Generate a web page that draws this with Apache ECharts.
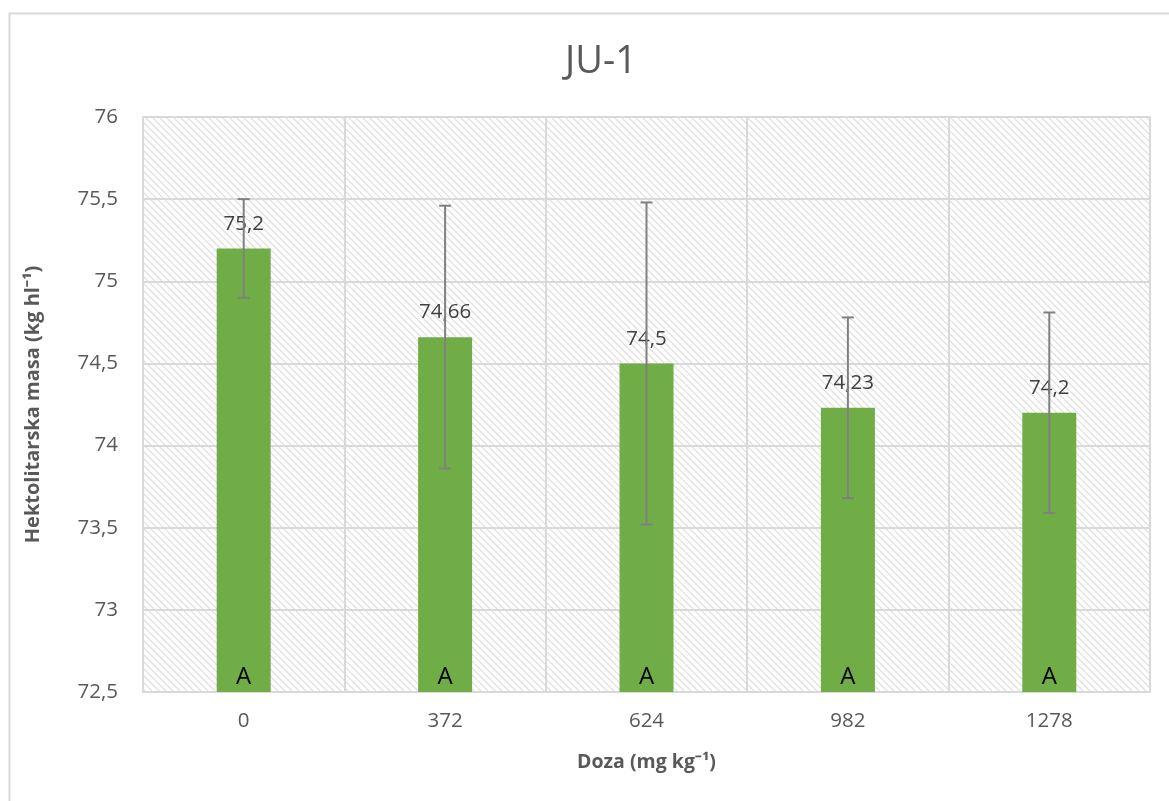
<!DOCTYPE html>
<html>
<head>
<meta charset="utf-8">
<script src="https://cdn.jsdelivr.net/npm/echarts@6/dist/echarts.min.js"></script>
<style>html,body{margin:0;padding:0;background:#fff;}#c{width:1169px;height:801px;}</style>
</head>
<body>
<div id="c"></div>
<script>
const categories = ['0', '372', '624', '982', '1278'];
const values = [75.2, 74.66, 74.5, 74.23, 74.2];
const errors = [0.3, 0.8, 0.98, 0.55, 0.61];
const letters = ['A', 'A', 'A', 'A', 'A'];
const yTicks = { min: 72.5, max: 76, interval: 0.5 };

const fmt = v => String(v).replace('.', ',');

// hatch pattern
const S = 7;
const pc = document.createElement('canvas');
pc.width = S; pc.height = S;
const ctx = pc.getContext('2d');
ctx.fillStyle = '#ffffff';
ctx.fillRect(0, 0, S, S);
ctx.strokeStyle = '#dcdcdc';
ctx.lineWidth = 1.1;
ctx.beginPath();
ctx.moveTo(-1, -1); ctx.lineTo(S + 1, S + 1);
ctx.moveTo(-S - 1, -1); ctx.lineTo(1, S + 1);
ctx.moveTo(S - 1, -1); ctx.lineTo(2 * S + 1, S + 1);
ctx.stroke();

const chart = echarts.init(document.getElementById('c'), null, { renderer: 'canvas' });
const font = 'Open Sans';
chart.setOption({
  animation: false,
  textStyle: { fontFamily: font },
  graphic: [{
    type: 'rect', left: 7, top: 11,
    shape: { x: 0, y: 0, width: 1200, height: 830 },
    style: { fill: 'none', stroke: '#d9d9d9', lineWidth: 2 },
    silent: true, z: -10
  }],
  title: {
    text: 'JU-1', left: 560, top: 38,
    textStyle: { fontFamily: font, fontSize: 38, fontWeight: 'normal', color: '#595959' }
  },
  grid: {
    left: 143, right: 19, top: 117, bottom: 109,
    show: true,
    backgroundColor: { image: pc, repeat: 'repeat' },
    borderColor: '#d9d9d9', borderWidth: 1.5
  },
  xAxis: {
    type: 'category', data: categories,
    name: 'Doza (mg kg⁻¹)', nameLocation: 'middle', nameGap: 60,
    nameTextStyle: { fontFamily: font, fontSize: 19.5, fontWeight: 'bold', color: '#595959' },
    axisLine: { show: true, lineStyle: { color: '#d9d9d9', width: 2 } },
    axisTick: { show: false },
    axisLabel: { fontFamily: font, fontSize: 20.5, color: '#595959', margin: 19 },
    splitLine: { show: true, lineStyle: { color: '#d9d9d9', width: 2 } }
  },
  yAxis: {
    type: 'value', min: yTicks.min, max: yTicks.max, interval: yTicks.interval,
    name: 'Hektolitarska masa (kg hl⁻¹)', nameLocation: 'middle', nameGap: 100,
    nameTextStyle: { fontFamily: font, fontSize: 20, fontWeight: 'bold', color: '#595959' },
    axisLine: { show: false }, axisTick: { show: false },
    axisLabel: { fontFamily: font, fontSize: 20.5, color: '#595959', margin: 25, formatter: v => fmt(v) },
    splitLine: { show: true, lineStyle: { color: '#d9d9d9', width: 2 } }
  },
  series: [
    {
      type: 'bar', data: values, barWidth: 54,
      itemStyle: { color: '#70ad47' },
      label: {
        show: true, position: 'top', distance: 14,
        fontFamily: font, fontSize: 20.5, color: '#404040',
        formatter: p => fmt(p.value)
      },
      z: 2
    },
    {
      type: 'bar', data: values, barWidth: 54, barGap: '-100%',
      itemStyle: { color: 'rgba(0,0,0,0)' },
      label: {
        show: true, position: 'insideBottom', distance: 3,
        fontFamily: font, fontSize: 24, color: '#000000',
        formatter: p => letters[p.dataIndex]
      },
      z: 3
    },
    {
      type: 'custom',
      data: values.map((v, i) => [i, v - errors[i], v + errors[i]]),
      renderItem: (params, api) => {
        const lo = api.coord([api.value(0), api.value(1)]);
        const hi = api.coord([api.value(0), api.value(2)]);
        const w = 6;
        const st = { stroke: '#808080', lineWidth: 2 };
        return {
          type: 'group',
          children: [
            { type: 'line', shape: { x1: hi[0], y1: hi[1], x2: lo[0], y2: lo[1] }, style: st },
            { type: 'line', shape: { x1: hi[0] - w, y1: hi[1], x2: hi[0] + w, y2: hi[1] }, style: st },
            { type: 'line', shape: { x1: lo[0] - w, y1: lo[1], x2: lo[0] + w, y2: lo[1] }, style: st }
          ]
        };
      },
      z: 4
    }
  ]
});
</script>
</body>
</html>
